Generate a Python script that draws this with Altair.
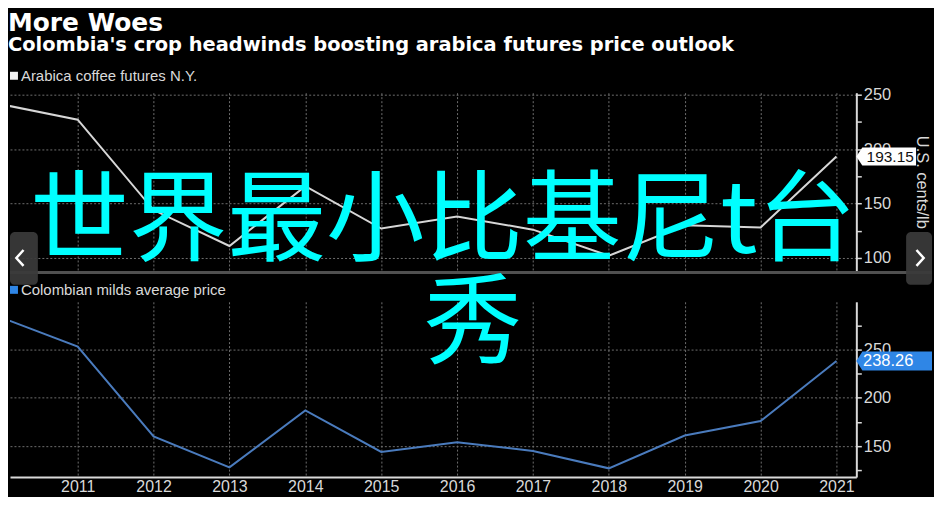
import altair as alt
import pandas as pd

# ---------------- data ----------------
years = [2010, 2011, 2012, 2013, 2014, 2015, 2016, 2017, 2018, 2019, 2020, 2021]
arabica = [241, 227, 144, 111, 166, 127, 138, 126, 102, 130, 128, 193.15]
colombian = [283, 253, 160, 128, 187, 144, 154, 145, 127, 161, 176, 238.26]

year_ticks = [2011, 2012, 2013, 2014, 2015, 2016, 2017, 2018, 2019, 2020, 2021]
arabica_ticks = [100, 125, 150, 175, 200, 225, 250]
colombian_ticks = [125, 150, 175, 200, 225, 250, 275]

series_names = ["Arabica coffee futures N.Y.", "Colombian milds average price"]
unit_title = "U.S. cents/lb"
title_text = "More Woes"
subtitle_text = "Colombia's crop headwinds boosting arabica futures price outlook"
overlay_lines = ["世界最小比基尼t台", "秀"]

# ---------------- styling ----------------
BG = "#000000"
FG = "#d9d9d9"
GRID = "#6e6e6e"
LINE_COLORS = ["#d6d6d6", "#4a7bbd"]
SWATCHES = ["#f2f2f2", "#2f86e6"]
BADGE_FILLS = ["#ffffff", "#2f86e6"]
BADGE_TEXT = ["#111111", "#ffffff"]
CYAN = "#00ffff"
NUM_FONT = "Liberation Sans"

W = 850
X_DOMAIN = [2010.1076, 2021.262]

TOP_PATH = "M-1,0 L-0.8,-0.3 L1,-0.3 L1,0.3 L-0.8,0.3 Z"
BOT_PATH = "M-1,0 L-0.84,-0.25 L1,-0.25 L1,0.25 L-0.84,0.25 Z"
CHEV_L = "M0.45,-1 L-0.45,0 L0.45,1"
CHEV_R = "M-0.45,-1 L0.45,0 L-0.45,1"


def y_axis(ticks, title):
    kw = dict(
        orient="right",
        values=ticks,
        labelExpr="datum.value % 50 === 0 ? datum.label : ''",
        labelOverlap=False,
        grid=True,
        gridColor=GRID,
        gridDash=[2, 2],
        gridWidth=1,
        gridOpacity={"condition": {"test": "datum.value % 50 === 0", "value": 1}, "value": 0},
        domainColor=FG,
        domainWidth=2,
        tickColor=FG,
        tickSize=5,
        tickWidth=1.5,
        labelColor=FG,
        labelFont=NUM_FONT,
        labelFontSize=16.5,
        labelPadding=2,
    )
    if title:
        kw.update(title=title, titleFont=NUM_FONT, titleFontSize=16.5,
                  titleFontWeight="normal", titleColor=FG, titlePadding=23)
    else:
        kw.update(title=None)
    return alt.Axis(**kw)


def x_axis(show_labels):
    kw = dict(values=year_ticks, grid=True, gridColor=GRID, gridDash=[2, 2],
              gridWidth=1, ticks=False, title=None)
    if show_labels:
        kw.update(format="d", labelColor=FG, labelFont=NUM_FONT, labelFontSize=16,
                  labelPadding=2, labelOverlap=False, labelFlush=False,
                  domainColor=FG, domainWidth=2)
    else:
        kw.update(labels=False, domain=False)
    return alt.Axis(**kw)


def panel(i, values, ticks, domain, height, title, show_x, badge_path, badge_size,
          badge_x, badge_text_x, badge_font, legend_y, overlay):
    df = pd.DataFrame({"year": years, "value": values})
    last = pd.DataFrame({"year": [years[-1]], "value": [values[-1]],
                         "label": [f"{values[-1]:.2f}"]})
    x_enc = alt.X("year:Q", scale=alt.Scale(domain=X_DOMAIN, nice=False, zero=False),
                  axis=x_axis(show_x))
    y_enc = alt.Y("value:Q", scale=alt.Scale(domain=domain, nice=False, zero=False),
                  axis=y_axis(ticks, title))

    line = alt.Chart(df).mark_line(color=LINE_COLORS[i], strokeWidth=2, clip=True).encode(
        x=x_enc, y=y_enc)
    badge = alt.Chart(last).mark_point(shape=badge_path, filled=True, size=badge_size,
                                       fill=BADGE_FILLS[i], opacity=1, strokeWidth=0).encode(
        x=alt.value(badge_x), y=y_enc)
    badge_txt = alt.Chart(last).mark_text(font=NUM_FONT, fontSize=badge_font, color=BADGE_TEXT[i],
                                          align="center", baseline="middle").encode(
        x=alt.value(badge_text_x), y=y_enc, text="label:N")
    leg_df = pd.DataFrame({"name": [series_names[i]]})
    swatch = alt.Chart(leg_df).mark_point(shape="square", filled=True, size=64,
                                          color=SWATCHES[i], opacity=1).encode(
        x=alt.value(4), y=alt.value(legend_y))
    leg_txt = alt.Chart(leg_df).mark_text(font=NUM_FONT, fontSize=15, color=FG,
                                          align="left", baseline="middle").encode(
        x=alt.value(11), y=alt.value(legend_y), text="name:N")
    layers = [line]
    layers += overlay["before"]
    layers += [badge, badge_txt, swatch, leg_txt]
    ov_df = pd.DataFrame({"t": [overlay["text"]]})
    cyan = alt.Chart(ov_df).mark_text(font="Noto Sans CJK SC", fontSize=99, color=CYAN,
                                      align="center", baseline="middle").encode(
        x=alt.value(overlay["x"]), y=alt.value(overlay["y"]), text="t:N")
    layers.append(cyan)
    layers += overlay["after"]
    return alt.layer(*layers).properties(width=W, height=height)


one = pd.DataFrame({"k": [0]})
separator = alt.Chart(one).mark_rule(color="#505050", strokeWidth=3).encode(
    x=alt.value(0), x2=alt.value(926), y=alt.value(180.5))
nav_left = alt.Chart(one).mark_rect(color="#3a3a3a", opacity=0.93, cornerRadius=5).encode(
    x=alt.value(0), x2=alt.value(28), y=alt.value(140), y2=alt.value(193))
nav_right = alt.Chart(one).mark_rect(color="#3a3a3a", opacity=0.93, cornerRadius=5).encode(
    x=alt.value(900), x2=alt.value(926), y=alt.value(140), y2=alt.value(193))
chev_left = alt.Chart(one).mark_point(shape=CHEV_L, filled=False, size=256, color="#ffffff",
                                      strokeWidth=2.5, opacity=1).encode(
    x=alt.value(10), y=alt.value(166))
chev_right = alt.Chart(one).mark_point(shape=CHEV_R, filled=False, size=256, color="#ffffff",
                                       strokeWidth=2.5, opacity=1).encode(
    x=alt.value(914), y=alt.value(166))

top = panel(0, arabica, arabica_ticks, [88.1, 251.8], 179, unit_title, False,
            TOP_PATH, 60 * 60, 880, 884, 15.5, -17,
            {"text": overlay_lines[0], "x": 435, "y": 131.5,
             "before": [separator], "after": [nav_left, nav_right, chev_left, chev_right]})
bottom = panel(1, colombian, colombian_ticks, [118, 299.5], 176, None, True,
               BOT_PATH, 76 * 76, 888, 882, 16.5, -12,
               {"text": overlay_lines[1], "x": 465, "y": 24.5,
                "before": [], "after": []})

chart = alt.vconcat(top, bottom, spacing=31, bounds="flush").properties(
    padding={"top": 2, "left": 0, "right": 0, "bottom": 0},
    title=alt.TitleParams(
        text=title_text, subtitle=subtitle_text, anchor="start",
        font="DejaVu Sans", fontSize=25, fontWeight="bold", color="#ffffff",
        subtitleFont="DejaVu Sans", subtitleFontSize=19.5, subtitleFontWeight="bold",
        subtitleColor="#ffffff", subtitlePadding=0, offset=14,
    ),
).configure(background=BG, font=NUM_FONT).configure_view(stroke="transparent")

chart.save("out.html", embed_options={"renderer": "svg", "actions": False})
